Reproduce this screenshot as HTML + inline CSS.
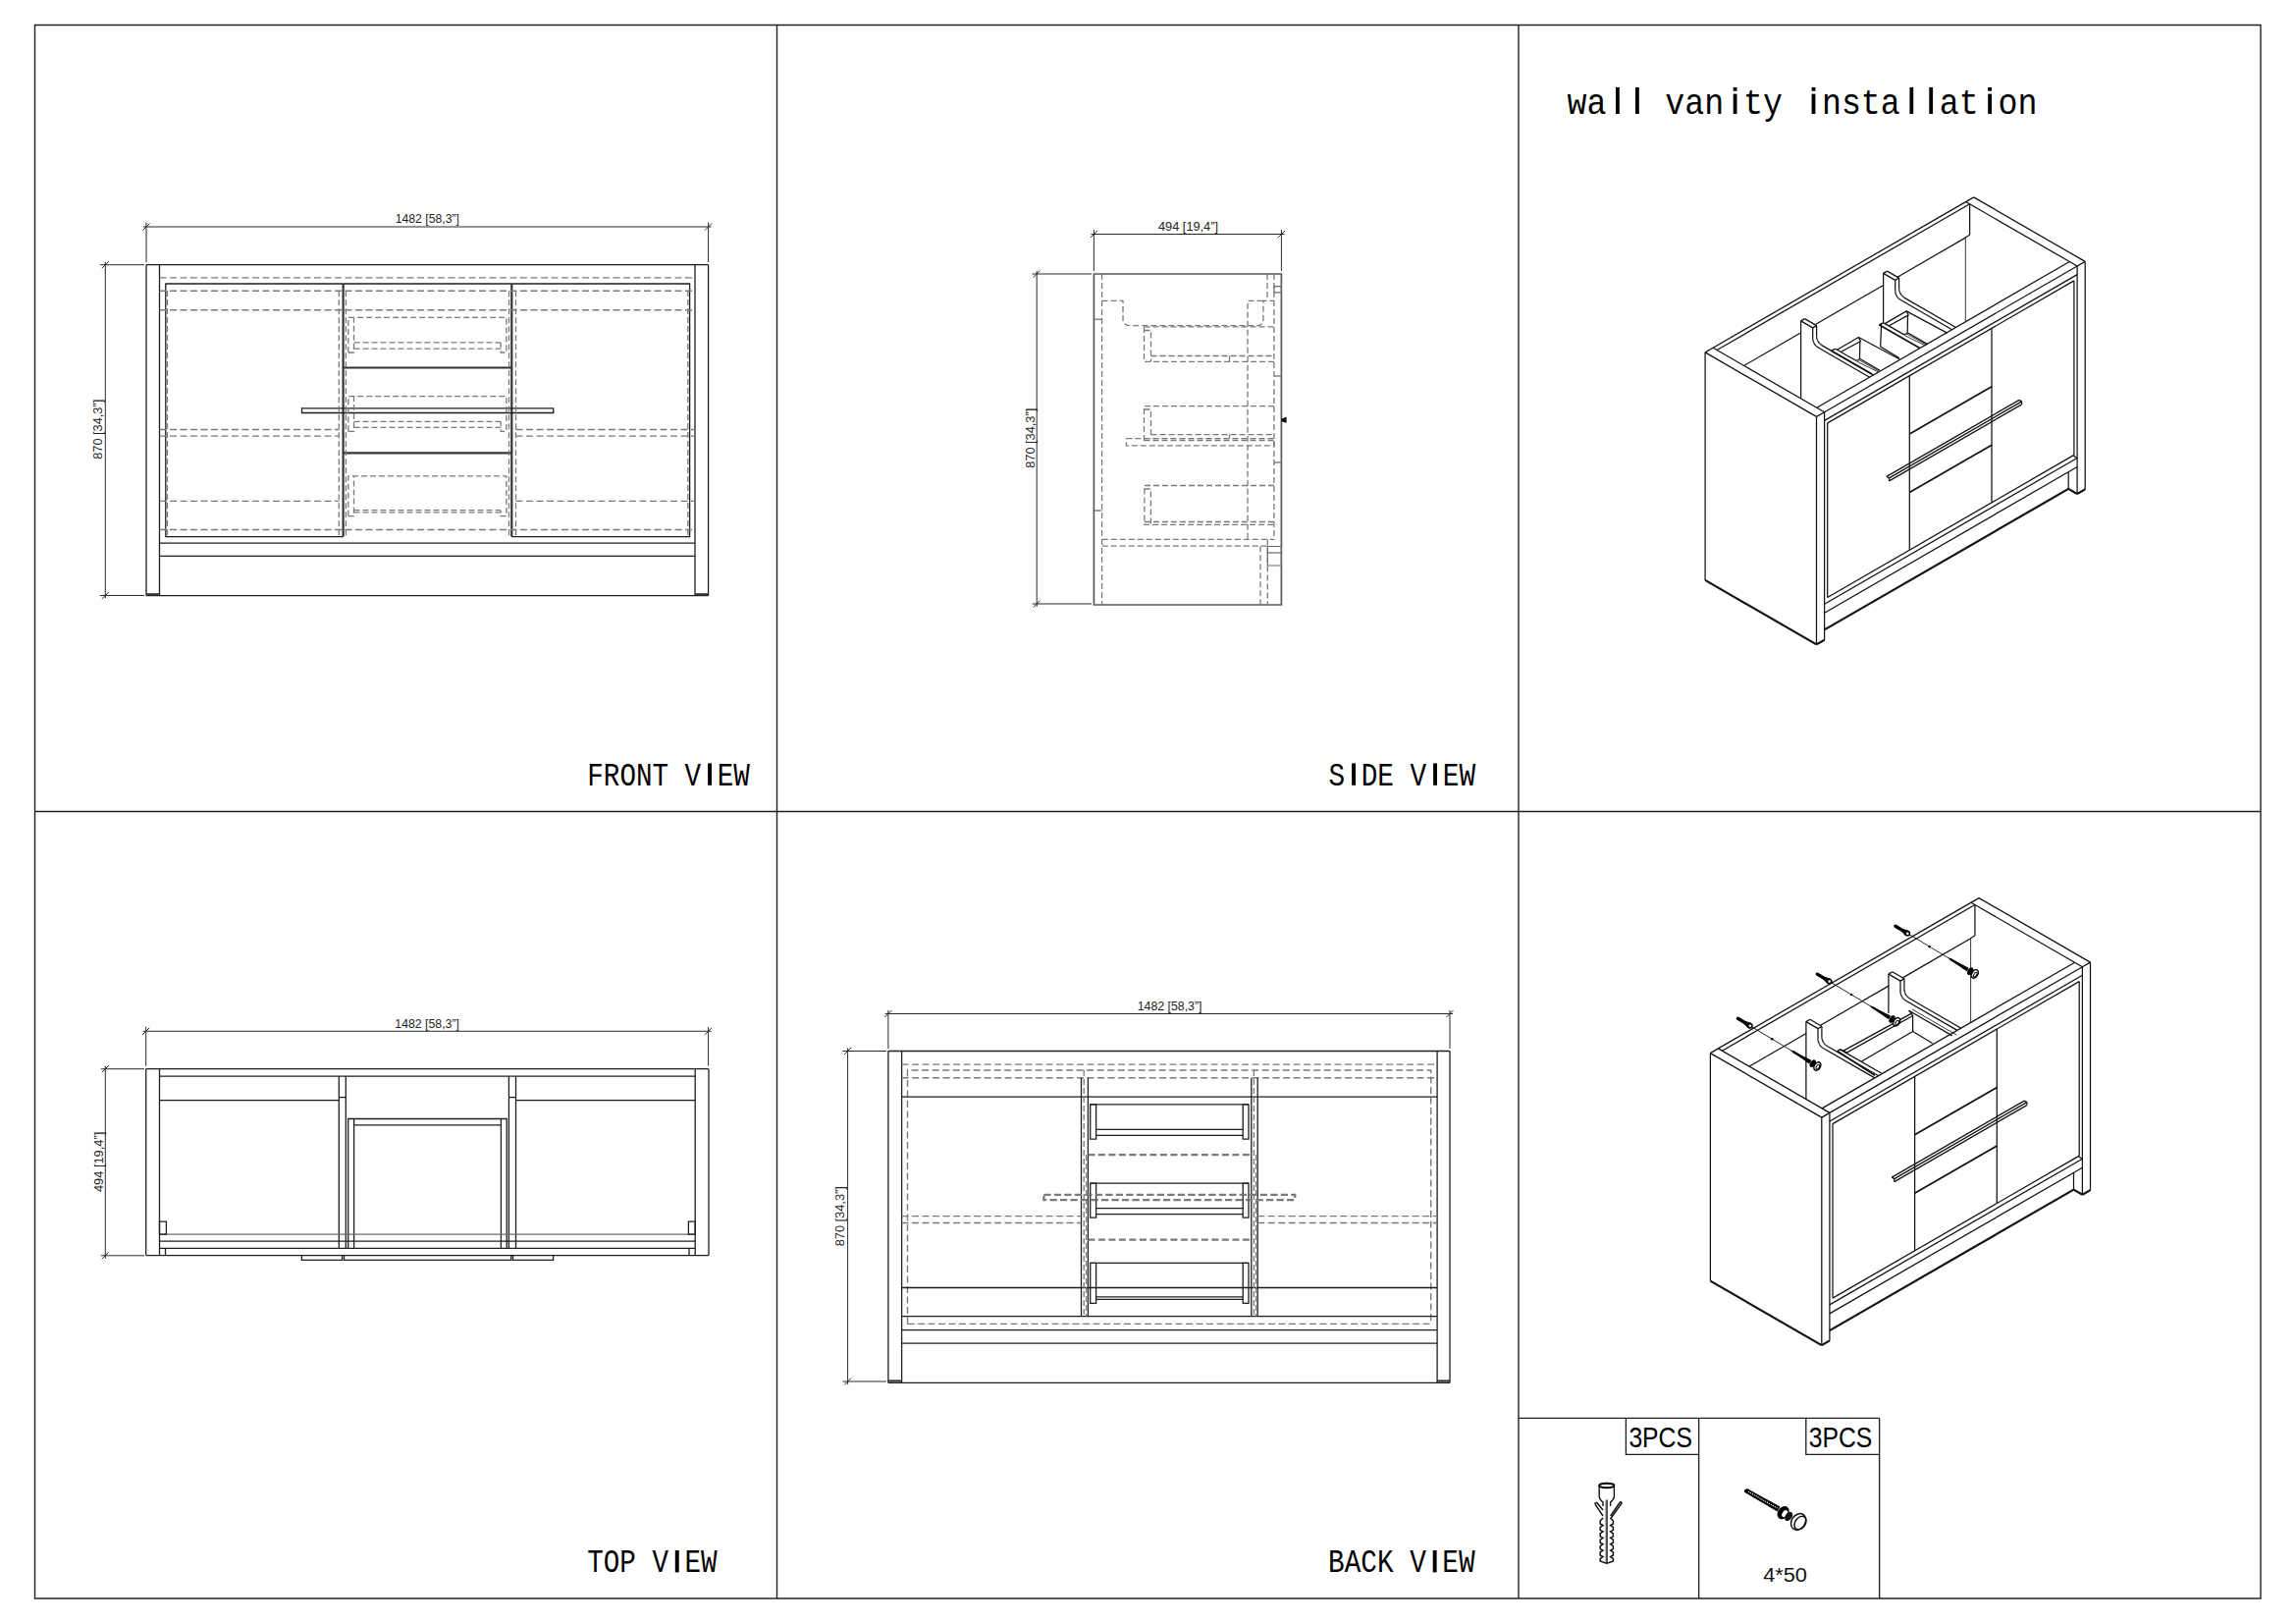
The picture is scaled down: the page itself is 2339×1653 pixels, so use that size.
<!DOCTYPE html>
<html><head><meta charset="utf-8"><style>
html,body{margin:0;padding:0;background:#fff;}
svg{display:block;}
.grid{fill:none;stroke:#222;stroke-width:1.4;}
.s{fill:none;stroke:#1e1e1e;stroke-width:1.3;}
.sb{fill:none;stroke:#333;stroke-width:2.2;}
.t{fill:none;stroke:#2a2a2a;stroke-width:1.0;}
.g{fill:none;stroke:#6a6a6a;stroke-width:1.2;}
.g2{fill:none;stroke:#5a5a5a;stroke-width:1.7;}
.d{fill:none;stroke:#7a7a7a;stroke-width:1.4;stroke-dasharray:7 3.5;}
.dh{fill:none;stroke:#7a7a7a;stroke-width:2.2;stroke-dasharray:7 3.5;}
.dd{fill:none;stroke:#7a7a7a;stroke-width:1.3;stroke-dasharray:6 3;}
.i{fill:none;stroke:#111;stroke-width:1.25;stroke-linejoin:round;}
.it{fill:none;stroke:#222;stroke-width:0.9;}
.ib{fill:none;stroke:#111;stroke-width:2.2;}
.ib2{fill:none;stroke:#111;stroke-width:1.7;}
.dim{font-family:"Liberation Sans",sans-serif;fill:#222;}
.lbl{font-family:"Liberation Mono",monospace;fill:#000;}
</style></head>
<body><svg width="2339" height="1653" viewBox="0 0 2339 1653">
<rect x="0" y="0" width="2339" height="1653" fill="#fff"/>
<polygon class="grid" points="35.5,25.5 2303,25.5 2303,1628 35.5,1628"/>
<line class="grid" x1="791.5" y1="25.5" x2="791.5" y2="1628"/>
<line class="grid" x1="1547" y1="25.5" x2="1547" y2="1628"/>
<line class="grid" x1="35.5" y1="826.5" x2="2303" y2="826.5"/>
<text class="lbl" x="598.3" y="799.8" font-size="34" textLength="165.5" lengthAdjust="spacingAndGlyphs" xml:space="preserve">FRONT V EW</text>
<rect x="721.1" y="777.4" width="3.9" height="22.4" fill="#000"/>
<text class="lbl" x="1353.5" y="799.8" font-size="34" textLength="149.5" lengthAdjust="spacingAndGlyphs" xml:space="preserve">S DE V EW</text>
<rect x="1377.1" y="777.4" width="3.9" height="22.4" fill="#000"/>
<rect x="1460.1" y="777.4" width="3.9" height="22.4" fill="#000"/>
<text class="lbl" x="598.3" y="1601.4" font-size="34" textLength="132.2" lengthAdjust="spacingAndGlyphs" xml:space="preserve">TOP V EW</text>
<rect x="687.8" y="1579" width="3.9" height="22.4" fill="#000"/>
<text class="lbl" x="1353.1" y="1601.4" font-size="34" textLength="149.5" lengthAdjust="spacingAndGlyphs" xml:space="preserve">BACK V EW</text>
<rect x="1459.7" y="1579" width="3.9" height="22.4" fill="#000"/>
<line class="t" x1="146" y1="231" x2="724.6" y2="231"/>
<line class="t" x1="145.5" y1="234.5" x2="152.5" y2="227.5"/>
<line class="t" x1="718.1" y1="234.5" x2="725.1" y2="227.5"/>
<line class="t" x1="149" y1="226.5" x2="149" y2="267"/>
<line class="t" x1="721.6" y1="226.5" x2="721.6" y2="267"/>
<text class="dim" x="402.7" y="227.4" font-size="13.5" text-anchor="start" textLength="65.3" lengthAdjust="spacingAndGlyphs">1482 [58,3&#8221;]</text>
<line class="t" x1="107.3" y1="266.7" x2="107.3" y2="609.5"/>
<line class="t" x1="103.8" y1="273.2" x2="110.8" y2="266.2"/>
<line class="t" x1="103.8" y1="610" x2="110.8" y2="603"/>
<line class="t" x1="102" y1="269.7" x2="147" y2="269.7"/>
<line class="t" x1="102" y1="606.5" x2="147" y2="606.5"/>
<text class="dim" transform="translate(104.2,467.8) rotate(-90)" x="0" y="0" font-size="13.5" textLength="61" lengthAdjust="spacingAndGlyphs">870 [34,3&#8221;]</text>
<line class="s" x1="149" y1="269.7" x2="721.6" y2="269.7"/>
<line class="s" x1="149" y1="606.7" x2="721.6" y2="606.7"/>
<line class="s" x1="149" y1="269.7" x2="149" y2="606.7"/>
<line class="s" x1="162.5" y1="269.7" x2="162.5" y2="606.7"/>
<line class="s" x1="708" y1="269.7" x2="708" y2="606.7"/>
<line class="s" x1="721.6" y1="269.7" x2="721.6" y2="606.7"/>
<line class="sb" x1="149" y1="605.3" x2="162.5" y2="605.3"/>
<line class="sb" x1="708" y1="605.3" x2="721.6" y2="605.3"/>
<polyline class="s" points="349.6,289 168.8,289 168.8,546.6 349.6,546.6"/>
<polyline class="s" points="521.3,289 702.6,289 702.6,546.6 521.3,546.6"/>
<line class="s" x1="349.6" y1="289" x2="521.3" y2="289"/>
<line class="sb" x1="349.6" y1="289" x2="349.6" y2="546.6"/>
<line class="sb" x1="521.3" y1="289" x2="521.3" y2="546.6"/>
<line class="sb" x1="349.6" y1="374.5" x2="521.3" y2="374.5"/>
<line class="sb" x1="349.6" y1="461.3" x2="521.3" y2="461.3"/>
<line class="s" x1="162.5" y1="553.2" x2="708" y2="553.2"/>
<line class="s" x1="162.5" y1="566.4" x2="708" y2="566.4"/>
<polygon class="s" points="307.5,415.8 563.7,415.8 563.7,420.5 307.5,420.5"/>
<line class="d" x1="162.5" y1="282.9" x2="708" y2="282.9"/>
<line class="d" x1="162.5" y1="296.3" x2="708" y2="296.3"/>
<line class="d" x1="162.5" y1="315.8" x2="708" y2="315.8"/>
<line class="d" x1="162.5" y1="539.5" x2="708" y2="539.5"/>
<line class="dd" x1="170.5" y1="296" x2="170.5" y2="546"/>
<line class="dd" x1="700.8" y1="296" x2="700.8" y2="546"/>
<line class="dd" x1="345.3" y1="296.3" x2="345.3" y2="546.6"/>
<line class="dd" x1="352.4" y1="296.3" x2="352.4" y2="546.6"/>
<line class="dd" x1="518.5" y1="296.3" x2="518.5" y2="546.6"/>
<line class="dd" x1="525.5" y1="296.3" x2="525.5" y2="546.6"/>
<polyline class="d" points="162.5,437.5 345.3,437.5"/>
<polyline class="d" points="162.5,444.1 345.3,444.1"/>
<polyline class="d" points="525.5,437.5 708,437.5"/>
<polyline class="d" points="525.5,444.1 708,444.1"/>
<line class="d" x1="162.5" y1="510.4" x2="345.3" y2="510.4"/>
<line class="d" x1="525.5" y1="510.4" x2="708" y2="510.4"/>
<polyline class="dd" points="354.8,359 354.8,323.3 515.9,323.3 515.9,359 510.2,359 510.2,348.9"/>
<polyline class="dd" points="354.8,359 360.5,359 360.5,323.3"/>
<line class="dd" x1="360.5" y1="348.9" x2="510.2" y2="348.9"/>
<line class="dd" x1="360.5" y1="355.1" x2="510.2" y2="355.1"/>
<polyline class="dd" points="354.8,439.3 354.8,403.7 515.9,403.7 515.9,439.3 510.2,439.3 510.2,429.3"/>
<polyline class="dd" points="354.8,439.3 360.5,439.3 360.5,403.7"/>
<line class="dd" x1="360.5" y1="429.3" x2="510.2" y2="429.3"/>
<line class="dd" x1="360.5" y1="435.3" x2="510.2" y2="435.3"/>
<polyline class="dd" points="354.8,525.7 354.8,484.9 515.9,484.9 515.9,525.7 510.2,525.7 510.2,519.7"/>
<polyline class="dd" points="354.8,525.7 360.5,525.7 360.5,484.9"/>
<line class="dd" x1="360.5" y1="519.7" x2="510.2" y2="519.7"/>
<line class="dd" x1="360.5" y1="521.8" x2="510.2" y2="521.8"/>
<line class="t" x1="1111.4" y1="238.5" x2="1308.4" y2="238.5"/>
<line class="t" x1="1110.9" y1="242" x2="1117.9" y2="235"/>
<line class="t" x1="1301.9" y1="242" x2="1308.9" y2="235"/>
<line class="t" x1="1114.4" y1="234" x2="1114.4" y2="276"/>
<line class="t" x1="1305.4" y1="234" x2="1305.4" y2="276"/>
<text class="dim" x="1180" y="235.4" font-size="13.5" text-anchor="start" textLength="61" lengthAdjust="spacingAndGlyphs">494 [19,4&#8221;]</text>
<line class="t" x1="1056.2" y1="276" x2="1056.2" y2="618"/>
<line class="t" x1="1052.7" y1="282.5" x2="1059.7" y2="275.5"/>
<line class="t" x1="1052.7" y1="618.5" x2="1059.7" y2="611.5"/>
<line class="t" x1="1051.6" y1="279" x2="1112" y2="279"/>
<line class="t" x1="1051.6" y1="615" x2="1112" y2="615"/>
<text class="dim" transform="translate(1053.5,476.8) rotate(-90)" x="0" y="0" font-size="13.5" textLength="61" lengthAdjust="spacingAndGlyphs">870 [34,3&#8221;]</text>
<polygon class="g2" points="1114.4,279 1305.4,279 1305.4,616 1114.4,616"/>
<line class="dd" x1="1122.6" y1="279" x2="1122.6" y2="616"/>
<line class="g" x1="1114.4" y1="325.2" x2="1122.6" y2="325.2"/>
<line class="g" x1="1114.4" y1="520" x2="1122.6" y2="520"/>
<path class="dd" d="M1122.6,306.3 H1144 V325 Q1144,331.7 1151.7,331.7 H1281 Q1286.9,331.7 1286.9,325 V306.3 H1298"/>
<polyline class="dd" points="1271,548.7 1271,306.3 1286.9,306.3"/>
<line class="dd" x1="1291" y1="279" x2="1291" y2="306.3"/>
<line class="dd" x1="1297.9" y1="279" x2="1297.9" y2="549.4"/>
<polygon class="g" points="1298,291.6 1305.4,291.6 1305.4,297.8 1298,297.8"/>
<line class="g" x1="1298" y1="383" x2="1305.4" y2="383"/>
<line class="g" x1="1298" y1="471" x2="1305.4" y2="471"/>
<line class="dd" x1="1165.5" y1="332.9" x2="1298" y2="332.9"/>
<polyline class="dd" points="1165.5,332.9 1165.5,368.3 1298,368.3"/>
<polyline class="dd" points="1165.5,336.5 1172.5,336.5 1172.5,368.3"/>
<line class="dd" x1="1172.5" y1="362.5" x2="1298" y2="362.5"/>
<line class="dd" x1="1252.5" y1="362.5" x2="1252.5" y2="368.3"/>
<polyline class="dd" points="1298,413.6 1165.5,413.6 1165.5,449"/>
<polyline class="dd" points="1165.5,417 1172.5,417 1172.5,446.4"/>
<line class="dd" x1="1172.5" y1="442.6" x2="1298" y2="442.6"/>
<line class="dd" x1="1252.5" y1="442.6" x2="1252.5" y2="446.4"/>
<polygon class="dd" points="1147.4,446.6 1298,446.6 1298,453.8 1147.4,453.8"/>
<line class="dd" x1="1165.5" y1="448.5" x2="1298" y2="448.5"/>
<polyline class="dd" points="1298,494.5 1165.9,494.5 1165.9,534.3 1300.5,534.3"/>
<polyline class="dd" points="1165.9,498 1172.4,498 1172.4,534.3"/>
<line class="dd" x1="1165.9" y1="531.5" x2="1298" y2="531.5"/>
<line class="dd" x1="1122.8" y1="549.4" x2="1298" y2="549.4"/>
<line class="dd" x1="1122.8" y1="556.2" x2="1291.3" y2="556.2"/>
<line class="dd" x1="1284" y1="556.2" x2="1284" y2="616"/>
<line class="dd" x1="1291.3" y1="549.4" x2="1291.3" y2="616"/>
<polygon class="g" points="1291.3,556.5 1305.4,556.5 1305.4,576 1291.3,576"/>
<line class="g" x1="1291.3" y1="563" x2="1305.4" y2="563"/>
<polygon points="1305.4,426.4 1310.6,424.6 1310.6,430.8 1305.4,429.3" fill="#111"/>
<line class="t" x1="145.7" y1="1050.3" x2="724.6" y2="1050.3"/>
<line class="t" x1="145.2" y1="1053.8" x2="152.2" y2="1046.8"/>
<line class="t" x1="718.1" y1="1053.8" x2="725.1" y2="1046.8"/>
<line class="t" x1="148.7" y1="1045.9" x2="148.7" y2="1085.6"/>
<line class="t" x1="721.6" y1="1045.9" x2="721.6" y2="1085.6"/>
<text class="dim" x="402.3" y="1046.8" font-size="13.5" text-anchor="start" textLength="65.6" lengthAdjust="spacingAndGlyphs">1482 [58,3&#8221;]</text>
<line class="t" x1="107.3" y1="1085.7" x2="107.3" y2="1281.8"/>
<line class="t" x1="103.8" y1="1092.2" x2="110.8" y2="1085.2"/>
<line class="t" x1="103.8" y1="1282.3" x2="110.8" y2="1275.3"/>
<line class="t" x1="102.9" y1="1088.7" x2="147" y2="1088.7"/>
<line class="t" x1="102.9" y1="1278.8" x2="147" y2="1278.8"/>
<text class="dim" transform="translate(104.5,1214) rotate(-90)" x="0" y="0" font-size="13.5" textLength="61.2" lengthAdjust="spacingAndGlyphs">494 [19,4&#8221;]</text>
<line class="s" x1="148.7" y1="1088.7" x2="722" y2="1088.7"/>
<line class="s" x1="148.7" y1="1278.6" x2="722" y2="1278.6"/>
<line class="s" x1="148.7" y1="1088.7" x2="148.7" y2="1278.6"/>
<line class="s" x1="162.5" y1="1088.7" x2="162.5" y2="1278.6"/>
<line class="s" x1="708.2" y1="1088.7" x2="708.2" y2="1278.6"/>
<line class="s" x1="722" y1="1088.7" x2="722" y2="1278.6"/>
<line class="s" x1="162.5" y1="1096.1" x2="708.2" y2="1096.1"/>
<line class="s" x1="162.5" y1="1120.7" x2="345.3" y2="1120.7"/>
<line class="s" x1="525.5" y1="1120.7" x2="708.2" y2="1120.7"/>
<line class="s" x1="345.3" y1="1096.1" x2="345.3" y2="1271.4"/>
<line class="s" x1="352.3" y1="1096.1" x2="352.3" y2="1271.4"/>
<line class="s" x1="518.4" y1="1096.1" x2="518.4" y2="1271.4"/>
<line class="s" x1="525.5" y1="1096.1" x2="525.5" y2="1271.4"/>
<line class="s" x1="345.3" y1="1117.6" x2="352.3" y2="1117.6"/>
<line class="s" x1="518.4" y1="1117.6" x2="525.5" y2="1117.6"/>
<polyline class="s" points="354.7,1271.4 354.7,1139.5 516.2,1139.5 516.2,1271.4"/>
<line class="s" x1="360.6" y1="1139.5" x2="360.6" y2="1271.4"/>
<line class="s" x1="510.4" y1="1139.5" x2="510.4" y2="1271.4"/>
<line class="s" x1="360.6" y1="1145.9" x2="510.4" y2="1145.9"/>
<line class="g" x1="162.5" y1="1257.1" x2="708.2" y2="1257.1"/>
<line class="s" x1="162.5" y1="1264.2" x2="708.2" y2="1264.2"/>
<line class="s" x1="162.5" y1="1271.4" x2="708.2" y2="1271.4"/>
<polygon class="s" points="162.5,1244.2 169.4,1244.2 169.4,1257.1 162.5,1257.1"/>
<polygon class="s" points="701.4,1244.2 708.2,1244.2 708.2,1257.1 701.4,1257.1"/>
<line class="s" x1="168.5" y1="1271.4" x2="168.5" y2="1278.6"/>
<line class="s" x1="702" y1="1271.4" x2="702" y2="1278.6"/>
<polyline class="s" points="307.4,1278.6 307.4,1283.4 348.6,1283.4 348.6,1278.6"/>
<polyline class="s" points="350.5,1278.6 350.5,1283.4 520.7,1283.4 520.7,1278.6"/>
<polyline class="s" points="522.5,1278.6 522.5,1283.4 563.6,1283.4 563.6,1278.6"/>
<line class="t" x1="901.9" y1="1032.5" x2="1480" y2="1032.5"/>
<line class="t" x1="901.4" y1="1036" x2="908.4" y2="1029"/>
<line class="t" x1="1473.5" y1="1036" x2="1480.5" y2="1029"/>
<line class="t" x1="904.9" y1="1028.8" x2="904.9" y2="1068"/>
<line class="t" x1="1477" y1="1028.8" x2="1477" y2="1068"/>
<text class="dim" x="1158.7" y="1029.3" font-size="13.5" text-anchor="start" textLength="65.8" lengthAdjust="spacingAndGlyphs">1482 [58,3&#8221;]</text>
<line class="t" x1="863.6" y1="1067.5" x2="863.6" y2="1410"/>
<line class="t" x1="860.1" y1="1074" x2="867.1" y2="1067"/>
<line class="t" x1="860.1" y1="1410.5" x2="867.1" y2="1403.5"/>
<line class="t" x1="858.4" y1="1070.5" x2="903" y2="1070.5"/>
<line class="t" x1="858.4" y1="1407" x2="903" y2="1407"/>
<text class="dim" transform="translate(859.5,1269.3) rotate(-90)" x="0" y="0" font-size="13.5" textLength="61.1" lengthAdjust="spacingAndGlyphs">870 [34,3&#8221;]</text>
<line class="s" x1="904.9" y1="1070.5" x2="1477" y2="1070.5"/>
<line class="s" x1="904.9" y1="1408.4" x2="1477" y2="1408.4"/>
<line class="s" x1="904.9" y1="1070.5" x2="904.9" y2="1408.4"/>
<line class="s" x1="918.6" y1="1070.5" x2="918.6" y2="1408.4"/>
<line class="s" x1="1464.1" y1="1070.5" x2="1464.1" y2="1408.4"/>
<line class="s" x1="1477" y1="1070.5" x2="1477" y2="1408.4"/>
<line class="sb" x1="904.9" y1="1406.5" x2="918.6" y2="1406.5"/>
<line class="sb" x1="1464.1" y1="1406.5" x2="1477" y2="1406.5"/>
<line class="d" x1="918.6" y1="1084.1" x2="1464.1" y2="1084.1"/>
<line class="d" x1="918.6" y1="1097.7" x2="1464.1" y2="1097.7"/>
<polyline class="d" points="924.5,1348.4 924.5,1090 1457.7,1090 1457.7,1348.4"/>
<line class="d" x1="924.5" y1="1348.4" x2="1457.7" y2="1348.4"/>
<line class="s" x1="918.6" y1="1117.2" x2="1464.1" y2="1117.2"/>
<line class="s" x1="918.6" y1="1311.5" x2="1464.1" y2="1311.5"/>
<line class="s" x1="918.6" y1="1354.6" x2="1464.1" y2="1354.6"/>
<line class="s" x1="918.6" y1="1368.2" x2="1464.1" y2="1368.2"/>
<line class="s" x1="918.6" y1="1340.6" x2="1464.1" y2="1340.6"/>
<line class="s" x1="1101.5" y1="1097.7" x2="1101.5" y2="1340.6"/>
<line class="s" x1="1108.4" y1="1097.7" x2="1108.4" y2="1340.6"/>
<line class="s" x1="1274.8" y1="1097.7" x2="1274.8" y2="1340.6"/>
<line class="s" x1="1281.2" y1="1097.7" x2="1281.2" y2="1340.6"/>
<line class="dd" x1="1104.2" y1="1090" x2="1104.2" y2="1340.6"/>
<line class="dd" x1="1106.6" y1="1176" x2="1106.6" y2="1340.6"/>
<line class="dd" x1="1277.4" y1="1090" x2="1277.4" y2="1340.6"/>
<line class="dd" x1="1279.6" y1="1176" x2="1279.6" y2="1340.6"/>
<polygon class="dh" points="1063.4,1216.8 1319.3,1216.8 1319.3,1222.2 1063.4,1222.2"/>
<line class="dh" x1="1108.4" y1="1176.1" x2="1274.8" y2="1176.1"/>
<line class="dh" x1="1108.4" y1="1262.7" x2="1274.8" y2="1262.7"/>
<line class="d" x1="918.6" y1="1238.6" x2="1101.5" y2="1238.6"/>
<line class="d" x1="918.6" y1="1245.5" x2="1101.5" y2="1245.5"/>
<line class="d" x1="1281.2" y1="1238.6" x2="1464.1" y2="1238.6"/>
<line class="d" x1="1281.2" y1="1245.5" x2="1464.1" y2="1245.5"/>
<line class="s" x1="1110.7" y1="1124.9" x2="1272" y2="1124.9"/>
<polygon class="s" points="1110.7,1124.9 1116.6,1124.9 1116.6,1160.1 1110.7,1160.1"/>
<polygon class="s" points="1266.2,1124.9 1272,1124.9 1272,1160.1 1266.2,1160.1"/>
<line class="s" x1="1116.6" y1="1150.4" x2="1266.2" y2="1150.4"/>
<line class="s" x1="1116.6" y1="1156.4" x2="1266.2" y2="1156.4"/>
<line class="s" x1="1110.7" y1="1205.2" x2="1272" y2="1205.2"/>
<polygon class="s" points="1110.7,1205.2 1116.6,1205.2 1116.6,1240.1 1110.7,1240.1"/>
<polygon class="s" points="1266.2,1205.2 1272,1205.2 1272,1240.1 1266.2,1240.1"/>
<line class="s" x1="1116.6" y1="1230.6" x2="1266.2" y2="1230.6"/>
<line class="s" x1="1116.6" y1="1236.7" x2="1266.2" y2="1236.7"/>
<line class="s" x1="1110.7" y1="1286.4" x2="1272" y2="1286.4"/>
<polygon class="s" points="1110.7,1286.4 1116.6,1286.4 1116.6,1327.4 1110.7,1327.4"/>
<polygon class="s" points="1266.2,1286.4 1272,1286.4 1272,1327.4 1266.2,1327.4"/>
<line class="s" x1="1116.6" y1="1320.8" x2="1266.2" y2="1320.8"/>
<line class="s" x1="1116.6" y1="1323.3" x2="1266.2" y2="1323.3"/>
<polygon class="d" points="1063.4,1216.8 1319.3,1216.8 1319.3,1222.2 1063.4,1222.2"/>
<polyline class="i" points="1737.1,590.9 1737.1,358.9"/>
<polyline class="i" points="1737.1,358.9 1850.5,424.4"/>
<polyline class="i" points="1850.5,424.4 1850.5,656.4"/>
<polyline class="ib" points="1850.5,656.4 1737.1,590.9"/>
<polyline class="i" points="1737.1,358.9 1745.1,354.2"/>
<polyline class="i" points="1745.1,354.2 1858.6,419.8"/>
<polyline class="i" points="1858.6,419.8 1850.5,424.4"/>
<polyline class="i" points="1858.6,419.8 1858.6,651.8"/>
<polyline class="ib" points="1850.5,656.4 1858.6,651.8"/>
<polyline class="i" points="2010.7,200.9 2124.2,266.4"/>
<polyline class="i" points="2124.2,266.4 2124.2,498.4"/>
<polyline class="i" points="2116.1,271 2116.1,503"/>
<polyline class="i" points="2116.1,271 2124.2,266.4"/>
<polyline class="ib" points="2116.1,503 2124.2,498.4"/>
<polyline class="i" points="2002.7,205.5 2006.6,207.8"/>
<polyline class="i" points="2006.6,207.8 2116.1,271"/>
<polyline class="i" points="1745.1,354.2 2010.7,200.9"/>
<polyline class="i" points="1749.1,356.5 2006.6,207.8"/>
<polyline class="i" points="2006.6,207.8 2006.6,239.3"/>
<polyline class="i" points="2006.6,239.3 2002,242"/>
<polyline class="i" points="2002.3,242.1 1933,282.2"/>
<polyline class="i" points="1919.1,290.2 1849.3,330.5"/>
<polyline class="i" points="1834.8,338.8 1776.5,372.5"/>
<polyline class="it" points="2002.3,242.1 2002.3,327.7"/>
<polyline class="i" points="1850.8,415.2 2108.3,266.5"/>
<polyline class="i" points="1858.6,419.8 2116.1,271"/>
<polyline class="i" points="1858.6,428.4 2116.1,279.6"/>
<polyline class="i" points="1861.7,430.9 2112.9,285.9"/>
<polyline class="i" points="1861.7,430.9 1861.7,608.5"/>
<polyline class="i" points="2112.9,285.9 2112.9,463.4"/>
<polyline class="i" points="1861.7,608.5 2112.9,463.4"/>
<polyline class="i" points="1945.3,382.6 1945.3,560.1"/>
<polyline class="i" points="2029,334.3 2029,511.8"/>
<polyline class="ib2" points="1945.3,442.1 2029,393.8"/>
<polyline class="ib2" points="1945.3,501.6 2029,453.3"/>
<polyline class="i" points="1858.6,615.2 2116.1,466.5"/>
<polyline class="i" points="1858.6,624.2 2116.1,475.5"/>
<polyline class="i" points="2112.4,464.4 2116.1,466.5"/>
<polyline class="ib" points="1858.6,641.4 2107.2,497.9"/>
<polyline class="i" points="2107.2,480.5 2107.2,497.9"/>
<polyline class="ib" points="2116.1,503 2107.2,497.9"/>
<polyline class="i" points="1924.5,486.9 2059.6,408.9"/>
<polyline class="i" points="1921.9,485.4 2057,407.4"/>
<polyline class="i" points="1924.5,489.9 2059.6,411.9"/>
<polyline class="i" points="1921.9,485.4 1924.5,486.9"/>
<polyline class="i" points="1924.5,486.9 1924.5,489.9"/>
<polyline class="i" points="2057,407.4 2059.6,408.9"/>
<polyline class="i" points="2059.6,408.9 2059.6,411.9"/>
<polyline class="i" points="1834.6,326.9 1838.5,324.6"/>
<polyline class="i" points="1838.5,324.6 1850.6,331.6"/>
<polyline class="i" points="1850.6,331.6 1846.7,333.9"/>
<polyline class="i" points="1846.7,333.9 1834.6,326.9"/>
<polyline class="i" points="1834.6,326.9 1834.6,405.7"/>
<polyline class="i" points="1846.7,333.9 1846.7,344.8"/>
<polyline class="i" points="1846.7,344.8 1846.8,346"/>
<polyline class="i" points="1846.8,346 1847.1,347.3"/>
<polyline class="i" points="1847.1,347.3 1847.6,348.6"/>
<polyline class="i" points="1847.6,348.6 1848.2,349.9"/>
<polyline class="i" points="1848.2,349.9 1849,351.1"/>
<polyline class="i" points="1849,351.1 1849.9,352.2"/>
<polyline class="i" points="1849.9,352.2 1850.9,353.1"/>
<polyline class="i" points="1850.9,353.1 1851.9,353.8"/>
<polyline class="i" points="1851.9,353.8 1904.6,384.2"/>
<polyline class="i" points="1850.6,331.6 1850.6,342.6"/>
<polyline class="i" points="1850.6,342.6 1850.7,343.8"/>
<polyline class="i" points="1850.7,343.8 1851,345.1"/>
<polyline class="i" points="1851,345.1 1851.5,346.4"/>
<polyline class="i" points="1851.5,346.4 1852.1,347.7"/>
<polyline class="i" points="1852.1,347.7 1852.9,348.9"/>
<polyline class="i" points="1852.9,348.9 1853.8,349.9"/>
<polyline class="i" points="1853.8,349.9 1854.8,350.8"/>
<polyline class="i" points="1854.8,350.8 1855.8,351.6"/>
<polyline class="i" points="1855.8,351.6 1908.5,382"/>
<polyline class="i" points="1918.6,278.4 1922.5,276.1"/>
<polyline class="i" points="1922.5,276.1 1934.6,283.1"/>
<polyline class="i" points="1934.6,283.1 1930.7,285.4"/>
<polyline class="i" points="1930.7,285.4 1918.6,278.4"/>
<polyline class="i" points="1918.6,278.4 1918.6,328.7"/>
<polyline class="i" points="1930.7,285.4 1930.7,296.3"/>
<polyline class="i" points="1930.7,296.3 1930.8,297.5"/>
<polyline class="i" points="1930.8,297.5 1931.1,298.8"/>
<polyline class="i" points="1931.1,298.8 1931.6,300.1"/>
<polyline class="i" points="1931.6,300.1 1932.2,301.4"/>
<polyline class="i" points="1932.2,301.4 1933,302.6"/>
<polyline class="i" points="1933,302.6 1933.9,303.7"/>
<polyline class="i" points="1933.9,303.7 1934.9,304.6"/>
<polyline class="i" points="1934.9,304.6 1935.9,305.3"/>
<polyline class="i" points="1935.9,305.3 1988.6,335.7"/>
<polyline class="i" points="1934.6,283.1 1934.6,294.1"/>
<polyline class="i" points="1934.6,294.1 1934.7,295.3"/>
<polyline class="i" points="1934.7,295.3 1935,296.6"/>
<polyline class="i" points="1935,296.6 1935.5,297.9"/>
<polyline class="i" points="1935.5,297.9 1936.1,299.2"/>
<polyline class="i" points="1936.1,299.2 1936.9,300.4"/>
<polyline class="i" points="1936.9,300.4 1937.8,301.4"/>
<polyline class="i" points="1937.8,301.4 1938.8,302.3"/>
<polyline class="i" points="1938.8,302.3 1939.8,303.1"/>
<polyline class="i" points="1939.8,303.1 1992.5,333.5"/>
<polyline class="i" points="1869.2,355.4 1871.5,356.2 1893.4,343.5 1895.5,347.5 1875.7,358.3"/>
<polyline class="i" points="1869.2,355.4 1865.6,357.3"/>
<polyline class="i" points="1893.4,343.5 1934.9,365.7"/>
<polyline class="i" points="1894.8,347.9 1894.5,365"/>
<polyline class="i" points="1871.5,356.2 1890.7,367.2 1893.2,366.8 1894.5,365"/>
<polyline class="it" points="1891.4,368.1 1913,378.6"/>
<polyline class="it" points="1893.4,366.4 1914.3,378"/>
<polyline class="i" points="1894.5,365.3 1915,377.2"/>
<polyline class="ib2" points="1865.6,357.3 1907,381"/>
<polyline class="i" points="1917.9,328.8 1920.2,329.6 1942.1,316.9 1944.2,320.9 1924.4,331.7"/>
<polyline class="i" points="1917.9,328.8 1914.3,330.7"/>
<polyline class="i" points="1942.1,316.9 1983.6,339.1"/>
<polyline class="i" points="1943.5,321.3 1943.2,338.4"/>
<polyline class="i" points="1920.2,329.6 1939.4,340.6 1941.9,340.2 1943.2,338.4"/>
<polyline class="it" points="1940.1,341.5 1961.7,352"/>
<polyline class="it" points="1942.1,339.8 1963,351.4"/>
<polyline class="i" points="1943.2,338.7 1963.7,350.6"/>
<polyline class="ib2" points="1914.3,330.7 1955.7,354.4"/>
<polyline class="i" points="1916.6,329.6 1915.7,353 1935.1,364.7"/>
<polyline class="i" points="1742.4,1304.6 1742.4,1072.6"/>
<polyline class="i" points="1742.4,1072.6 1855.8,1138.1"/>
<polyline class="i" points="1855.8,1138.1 1855.8,1370.1"/>
<polyline class="ib" points="1855.8,1370.1 1742.4,1304.6"/>
<polyline class="i" points="1742.4,1072.6 1750.4,1067.9"/>
<polyline class="i" points="1750.4,1067.9 1863.9,1133.4"/>
<polyline class="i" points="1863.9,1133.4 1855.8,1138.1"/>
<polyline class="i" points="1863.9,1133.4 1863.9,1365.4"/>
<polyline class="ib" points="1855.8,1370.1 1863.9,1365.4"/>
<polyline class="i" points="2016,914.6 2129.5,980.1"/>
<polyline class="i" points="2129.5,980.1 2129.5,1212.1"/>
<polyline class="i" points="2121.4,984.7 2121.4,1216.8"/>
<polyline class="i" points="2121.4,984.7 2129.5,980.1"/>
<polyline class="ib" points="2121.4,1216.8 2129.5,1212.1"/>
<polyline class="i" points="2008,919.2 2011.9,921.5"/>
<polyline class="i" points="2011.9,921.5 2121.4,984.7"/>
<polyline class="i" points="1750.4,1067.9 2016,914.6"/>
<polyline class="i" points="1754.4,1070.2 2011.9,921.5"/>
<polyline class="i" points="2011.9,921.5 2011.9,953"/>
<polyline class="i" points="2011.9,953 2007.3,955.7"/>
<polyline class="i" points="2007.6,955.8 1938.3,995.9"/>
<polyline class="i" points="1924.4,1003.9 1854.6,1044.2"/>
<polyline class="i" points="1840.1,1052.5 1781.8,1086.2"/>
<polyline class="it" points="2007.6,955.8 2007.6,1041.4"/>
<polyline class="i" points="1856.1,1128.9 2113.6,980.2"/>
<polyline class="i" points="1863.9,1133.4 2121.4,984.7"/>
<polyline class="i" points="1863.9,1142 2121.4,993.3"/>
<polyline class="i" points="1867,1144.6 2118.2,999.6"/>
<polyline class="i" points="1867,1144.6 1867,1322.1"/>
<polyline class="i" points="2118.2,999.6 2118.2,1177.1"/>
<polyline class="i" points="1867,1322.1 2118.2,1177.1"/>
<polyline class="i" points="1950.6,1096.3 1950.6,1273.8"/>
<polyline class="i" points="2034.3,1048 2034.3,1225.5"/>
<polyline class="ib2" points="1950.6,1155.8 2034.3,1107.5"/>
<polyline class="ib2" points="1950.6,1215.3 2034.3,1167"/>
<polyline class="i" points="1863.9,1328.9 2121.4,1180.2"/>
<polyline class="i" points="1863.9,1337.9 2121.4,1189.2"/>
<polyline class="i" points="2117.7,1178.1 2121.4,1180.2"/>
<polyline class="ib" points="1863.9,1355.1 2112.5,1211.6"/>
<polyline class="i" points="2112.5,1194.2 2112.5,1211.6"/>
<polyline class="ib" points="2121.4,1216.8 2112.5,1211.6"/>
<polyline class="i" points="1929.8,1200.6 2064.9,1122.6"/>
<polyline class="i" points="1927.2,1199.1 2062.3,1121.1"/>
<polyline class="i" points="1929.8,1203.6 2064.9,1125.6"/>
<polyline class="i" points="1927.2,1199.1 1929.8,1200.6"/>
<polyline class="i" points="1929.8,1200.6 1929.8,1203.6"/>
<polyline class="i" points="2062.3,1121.1 2064.9,1122.6"/>
<polyline class="i" points="2064.9,1122.6 2064.9,1125.6"/>
<polyline class="i" points="1839.9,1040.6 1843.8,1038.3"/>
<polyline class="i" points="1843.8,1038.3 1855.9,1045.3"/>
<polyline class="i" points="1855.9,1045.3 1852,1047.6"/>
<polyline class="i" points="1852,1047.6 1839.9,1040.6"/>
<polyline class="i" points="1839.9,1040.6 1839.9,1119.4"/>
<polyline class="i" points="1852,1047.6 1852,1058.5"/>
<polyline class="i" points="1852,1058.5 1852.1,1059.7"/>
<polyline class="i" points="1852.1,1059.7 1852.4,1061"/>
<polyline class="i" points="1852.4,1061 1852.9,1062.3"/>
<polyline class="i" points="1852.9,1062.3 1853.5,1063.6"/>
<polyline class="i" points="1853.5,1063.6 1854.3,1064.8"/>
<polyline class="i" points="1854.3,1064.8 1855.2,1065.9"/>
<polyline class="i" points="1855.2,1065.9 1856.2,1066.8"/>
<polyline class="i" points="1856.2,1066.8 1857.2,1067.5"/>
<polyline class="i" points="1857.2,1067.5 1909.9,1097.9"/>
<polyline class="i" points="1855.9,1045.3 1855.9,1056.2"/>
<polyline class="i" points="1855.9,1056.2 1856,1057.5"/>
<polyline class="i" points="1856,1057.5 1856.3,1058.8"/>
<polyline class="i" points="1856.3,1058.8 1856.8,1060.1"/>
<polyline class="i" points="1856.8,1060.1 1857.4,1061.4"/>
<polyline class="i" points="1857.4,1061.4 1858.2,1062.6"/>
<polyline class="i" points="1858.2,1062.6 1859.1,1063.6"/>
<polyline class="i" points="1859.1,1063.6 1860.1,1064.5"/>
<polyline class="i" points="1860.1,1064.5 1861.1,1065.2"/>
<polyline class="i" points="1861.1,1065.2 1913.8,1095.7"/>
<polyline class="i" points="1923.9,992.1 1927.8,989.8"/>
<polyline class="i" points="1927.8,989.8 1939.9,996.8"/>
<polyline class="i" points="1939.9,996.8 1936,999.1"/>
<polyline class="i" points="1936,999.1 1923.9,992.1"/>
<polyline class="i" points="1923.9,992.1 1923.9,1032.1"/>
<polyline class="i" points="1936,999.1 1936,1010"/>
<polyline class="i" points="1936,1010 1936.1,1011.2"/>
<polyline class="i" points="1936.1,1011.2 1936.4,1012.5"/>
<polyline class="i" points="1936.4,1012.5 1936.9,1013.8"/>
<polyline class="i" points="1936.9,1013.8 1937.5,1015.1"/>
<polyline class="i" points="1937.5,1015.1 1938.3,1016.3"/>
<polyline class="i" points="1938.3,1016.3 1939.2,1017.4"/>
<polyline class="i" points="1939.2,1017.4 1940.2,1018.3"/>
<polyline class="i" points="1940.2,1018.3 1941.2,1019"/>
<polyline class="i" points="1941.2,1019 1993.9,1049.4"/>
<polyline class="i" points="1939.9,996.8 1939.9,1007.7"/>
<polyline class="i" points="1939.9,1007.7 1940,1009"/>
<polyline class="i" points="1940,1009 1940.3,1010.3"/>
<polyline class="i" points="1940.3,1010.3 1940.8,1011.6"/>
<polyline class="i" points="1940.8,1011.6 1941.4,1012.9"/>
<polyline class="i" points="1941.4,1012.9 1942.2,1014.1"/>
<polyline class="i" points="1942.2,1014.1 1943.1,1015.1"/>
<polyline class="i" points="1943.1,1015.1 1944.1,1016"/>
<polyline class="i" points="1944.1,1016 1945.1,1016.7"/>
<polyline class="i" points="1945.1,1016.7 1997.8,1047.2"/>
<polyline class="i" points="1871.7,1070.5 1874.5,1068.9 1916.5,1093"/>
<polyline class="ib2" points="1871.7,1070.5 1910.1,1095.4"/>
<polyline class="i" points="1874.5,1068.9 1878.1,1070.1 1947.4,1032.1 1948.6,1034.5 1881.3,1072.1 1878.1,1070.1"/>
<polyline class="i" points="1948.6,1034.5 1948.6,1050.5 1896.5,1081"/>
<polyline class="i" points="1948.6,1050.5 1968.6,1062.5"/>
<polyline class="i" points="1944.6,1029.3 1947.4,1032.1"/>
<polyline class="i" points="1944.6,1029.3 1988.8,1054.9"/>
<polyline class="it" points="1947.8,1027.9 1993.1,1054"/>
<line x1="1770.5" y1="1037.3" x2="1781.6" y2="1044" stroke="#000" stroke-width="3.4" stroke-linecap="round"/>
<polygon points="1776.5,1042.7 1780.8,1047.3 1784.1,1041.8 1778.1,1040.1" fill="#000"/>
<circle cx="1782.9" cy="1044.8" r="2.1" fill="#fff" stroke="#000" stroke-width="1.6"/>
<line x1="1784.6" y1="1045.8" x2="1826.2" y2="1070.8" stroke="#111" stroke-width="0.9"/>
<circle cx="1805.2" cy="1058.2" r="1.3" fill="#000"/>
<polygon points="1824.2,1070.1 1843.1,1083.4 1845.2,1079.8 1824.7,1069.4" fill="#000"/>
<line x1="1826.2" y1="1070.8" x2="1844.2" y2="1081.6" stroke="#000" stroke-width="2.2"/>
<ellipse cx="1846.7" cy="1083.1" rx="2.6" ry="4.2" transform="rotate(31 1846.7 1083.1)" fill="#000"/>
<ellipse cx="1851.4" cy="1086" rx="3.0" ry="4.6" transform="rotate(31 1851.4 1086)" fill="#fff" stroke="#000" stroke-width="1.5"/>
<ellipse cx="1852.2" cy="1086.4" rx="1.4" ry="2.6" transform="rotate(31 1851.4 1086)" fill="none" stroke="#000" stroke-width="1.0"/>
<line x1="1851.3" y1="992.1" x2="1862.4" y2="998.8" stroke="#000" stroke-width="3.4" stroke-linecap="round"/>
<polygon points="1857.3,997.5 1861.6,1002.1 1864.9,996.6 1858.9,994.9" fill="#000"/>
<circle cx="1863.7" cy="999.6" r="2.1" fill="#fff" stroke="#000" stroke-width="1.6"/>
<line x1="1865.4" y1="1000.6" x2="1907" y2="1025.6" stroke="#111" stroke-width="0.9"/>
<circle cx="1886" cy="1013" r="1.3" fill="#000"/>
<polygon points="1905,1024.9 1923.9,1038.2 1926,1034.6 1905.5,1024.2" fill="#000"/>
<line x1="1907" y1="1025.6" x2="1925" y2="1036.4" stroke="#000" stroke-width="2.2"/>
<ellipse cx="1927.5" cy="1038" rx="2.6" ry="4.2" transform="rotate(31 1927.5 1038)" fill="#000"/>
<ellipse cx="1932.2" cy="1040.8" rx="3.0" ry="4.6" transform="rotate(31 1932.2 1040.8)" fill="#fff" stroke="#000" stroke-width="1.5"/>
<ellipse cx="1933" cy="1041.2" rx="1.4" ry="2.6" transform="rotate(31 1932.2 1040.8)" fill="none" stroke="#000" stroke-width="1.0"/>
<line x1="1930.9" y1="943.2" x2="1942" y2="949.9" stroke="#000" stroke-width="3.4" stroke-linecap="round"/>
<polygon points="1936.9,948.6 1941.2,953.2 1944.5,947.7 1938.5,946" fill="#000"/>
<circle cx="1943.3" cy="950.7" r="2.1" fill="#fff" stroke="#000" stroke-width="1.6"/>
<line x1="1945" y1="951.7" x2="1986.6" y2="976.7" stroke="#111" stroke-width="0.9"/>
<circle cx="1965.6" cy="964.1" r="1.3" fill="#000"/>
<polygon points="1984.6,976 2003.5,989.3 2005.6,985.7 1985.1,975.3" fill="#000"/>
<line x1="1986.6" y1="976.7" x2="2004.6" y2="987.5" stroke="#000" stroke-width="2.2"/>
<ellipse cx="2007.1" cy="989.1" rx="2.6" ry="4.2" transform="rotate(31 2007.1 989.1)" fill="#000"/>
<ellipse cx="2011.8" cy="991.9" rx="3.0" ry="4.6" transform="rotate(31 2011.8 991.9)" fill="#fff" stroke="#000" stroke-width="1.5"/>
<ellipse cx="2012.6" cy="992.3" rx="1.4" ry="2.6" transform="rotate(31 2011.8 991.9)" fill="none" stroke="#000" stroke-width="1.0"/>
<line class="grid" x1="1547" y1="1444.4" x2="1914.6" y2="1444.4"/>
<line class="grid" x1="1730.6" y1="1444.4" x2="1730.6" y2="1628"/>
<line class="grid" x1="1914.6" y1="1444.4" x2="1914.6" y2="1628"/>
<polyline class="s" points="1656.4,1444.4 1656.4,1481.3 1730.6,1481.3"/>
<polyline class="s" points="1839.8,1444.4 1839.8,1481.3 1914.6,1481.3"/>
<text class="dim" x="1659.4" y="1473.8" font-size="30" fill="#000" textLength="64.5" lengthAdjust="spacingAndGlyphs" style="fill:#000">3PCS</text>
<text class="dim" x="1842.8" y="1473.8" font-size="30" fill="#000" textLength="64.5" lengthAdjust="spacingAndGlyphs" style="fill:#000">3PCS</text>
<text class="dim" x="1796.2" y="1611.4" font-size="19.6" textLength="44.8" lengthAdjust="spacingAndGlyphs" style="fill:#111">4*50</text>
<ellipse cx="1636.8" cy="1513" rx="7.6" ry="2.2" fill="#fff" stroke="#000" stroke-width="1.9"/>
<path d="M1629.2,1513 V1524 Q1629.2,1527 1633.0,1530 V1534 M1644.3999999999999,1513 V1524 Q1644.3999999999999,1527 1640.6,1530 V1534" fill="none" stroke="#111" stroke-width="1.4"/>
<path d="M1633.0,1544 L1625.3,1532.5 Q1624.3,1530 1626.8,1530.5 L1633.0,1538" fill="none" stroke="#111" stroke-width="1.4"/>
<path d="M1640.6,1544 L1650.3,1530 Q1651.8,1528.5 1652.0,1531 L1640.6,1547" fill="none" stroke="#111" stroke-width="1.4"/>
<line x1="1636.8" y1="1528.5" x2="1636.8" y2="1591" stroke="#555" stroke-width="2.4" stroke-linecap="round"/>
<path d="M1633.0,1546 L1630.2,1549 L1630.2,1552 L1633.0,1553.5 L1630.2,1555.4 L1630.2,1558.4 L1633.0,1559.9 L1630.2,1561.8000000000002 L1630.2,1564.8000000000002 L1633.0,1566.3000000000002 L1630.2,1568.2000000000003 L1630.2,1571.2000000000003 L1633.0,1572.7000000000003 L1630.2,1574.6000000000004 L1630.2,1577.6000000000004 L1633.0,1579.1000000000004 L1630.2,1581.0000000000005 L1630.2,1584.0000000000005 L1633.0,1585.5000000000005 L1630.2,1587.4000000000005 L1630.2,1589.9000000000005 L1636.8,1592.4" fill="none" stroke="#111" stroke-width="1.5"/>
<path d="M1640.6,1546 L1643.3999999999999,1549 L1643.3999999999999,1552 L1640.6,1553.5 L1643.3999999999999,1555.4 L1643.3999999999999,1558.4 L1640.6,1559.9 L1643.3999999999999,1561.8000000000002 L1643.3999999999999,1564.8000000000002 L1640.6,1566.3000000000002 L1643.3999999999999,1568.2000000000003 L1643.3999999999999,1571.2000000000003 L1640.6,1572.7000000000003 L1643.3999999999999,1574.6000000000004 L1643.3999999999999,1577.6000000000004 L1640.6,1579.1000000000004 L1643.3999999999999,1581.0000000000005 L1643.3999999999999,1584.0000000000005 L1640.6,1585.5000000000005 L1643.3999999999999,1587.4000000000005 L1643.3999999999999,1589.9000000000005 L1636.8,1592.4" fill="none" stroke="#111" stroke-width="1.5"/>
<polygon points="1777.2,1517.6 1779.8,1515.9 1813.5,1534.6 1810.6,1539.6 1776.8,1519.6" fill="#000"/>
<line x1="1781" y1="1519.2" x2="1810.5" y2="1536" stroke="#fff" stroke-width="1.2" stroke-dasharray="1.1 1.1"/>
<ellipse cx="1816.6" cy="1540.6" rx="5.4" ry="7.2" transform="rotate(35 1816.6 1540.6)" fill="#000"/>
<ellipse cx="1818.2" cy="1541.6" rx="2.4" ry="3.9" transform="rotate(35 1818.2 1541.6)" fill="#fff"/>
<ellipse cx="1822.2" cy="1544.4" rx="3.4" ry="5.2" transform="rotate(35 1822.2 1544.4)" fill="#111"/>
<ellipse cx="1832.1" cy="1549.9" rx="6.9" ry="8.9" transform="rotate(35 1832.1 1549.9)" fill="#fff" stroke="#111" stroke-width="1.5"/>
<ellipse cx="1834" cy="1551" rx="5.2" ry="7.4" transform="rotate(35 1834 1551)" fill="none" stroke="#111" stroke-width="1.5"/>
<text class="lbl" x="1596.5" y="116.0" font-size="37" textLength="479.0" lengthAdjust="spacingAndGlyphs" xml:space="preserve">wa   van ty  nsta  at on</text>
<rect x="1646" y="88.9" width="3.8" height="27.1" fill="#000"/>
<rect x="1666" y="88.9" width="3.8" height="27.1" fill="#000"/>
<rect x="1765.7" y="95.6" width="3.8" height="20.4" fill="#000"/>
<rect x="1765.7" y="88.9" width="3.8" height="3.8" fill="#000"/>
<rect x="1845.6" y="95.6" width="3.8" height="20.4" fill="#000"/>
<rect x="1845.6" y="88.9" width="3.8" height="3.8" fill="#000"/>
<rect x="1945.4" y="88.9" width="3.8" height="27.1" fill="#000"/>
<rect x="1965.3" y="88.9" width="3.8" height="27.1" fill="#000"/>
<rect x="2025.2" y="95.6" width="3.8" height="20.4" fill="#000"/>
<rect x="2025.2" y="88.9" width="3.8" height="3.8" fill="#000"/>
</svg></body></html>
